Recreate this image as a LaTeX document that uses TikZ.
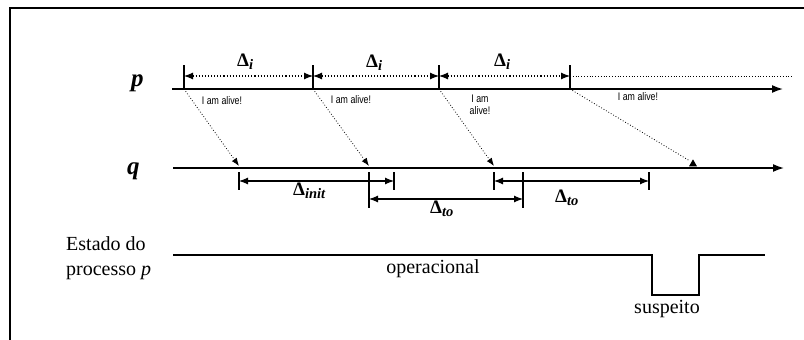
\documentclass[tikz,border=0pt]{standalone}
\usepackage{fontspec}
\setmainfont{Liberation Serif}
\newfontfamily\alivefont{Liberation Sans}
\usetikzlibrary{arrows.meta,shapes.geometric}

% interval label: bold Delta with a bold italic subscript
\newcommand{\dlab}[1]{{\fontsize{19}{19}\selectfont\bfseries Δ\raisebox{-3pt}{\fontsize{14.5}{14.5}\selectfont\bfseries\itshape #1}}}
% message text: narrow, tall sans
\newcommand{\msgtext}[1]{\scalebox{1}[1.25]{\begin{tabular}{@{}c@{}}#1\end{tabular}}}

\tikzset{
  axis/.style={line width=1.6pt, -{Latex[length=11pt,width=8pt]}},
  tickmark/.style={line width=2.6pt},
  span/.style={line width=1.1pt, {Latex[length=9pt,width=7pt]}-{Latex[length=9pt,width=7pt]}},
  dspan/.style={span, dotted},
  msg/.style={line width=0.8pt, dotted, -{Latex[length=8pt,width=6pt]}},
  alive/.style={font=\alivefont\fontsize{8.8}{9.6}\selectfont, inner sep=0pt},
  delta/.style={inner sep=0pt, anchor=base west},
  proc/.style={font=\fontsize{25}{25}\selectfont\bfseries\itshape, inner sep=0pt, anchor=base west},
  body/.style={font=\fontsize{20}{24}\selectfont, inner sep=0pt},
  state/.style={line width=1.2pt}
}

\begin{document}
\begin{tikzpicture}[x=1pt, y=-1pt]
\useasboundingbox (0,0) rectangle (804,340);

% frame
\draw[line width=2pt] (10,340) -- (10,8) -- (804,8);

% process labels
\node[proc] (plab) at (131,86) {p};
\node[proc] (qlab) at (127,174) {q};

% time axes
\coordinate (ps) at (172,89);  \coordinate (pe) at (783,89);
\coordinate (qs) at (173,168); \coordinate (qe) at (784,168);
\draw[axis] (ps) -- (pe);
\draw[axis] (qs) -- (qe);

% heartbeat instants on p
\foreach \n/\x in {1/184, 2/313, 3/439, 4/570} {
  \coordinate (t\n) at (\x,89);
  \coordinate (u\n) at (\x,65);
  \coordinate (m\n) at (\x,76);
  \draw[tickmark] (t\n) -- (u\n);
}
\draw[dspan] (m1) -- (m2);
\draw[dspan] (m2) -- (m3);
\draw[dspan] (m3) -- (m4);
\coordinate (dotend) at (792,76);
\draw[line width=0.8pt, dotted] (m4) -- (dotend);

\node[delta] (di1) at (237,66) {\dlab{i}};
\node[delta] (di2) at (366,67) {\dlab{i}};
\node[delta] (di3) at (494,66) {\dlab{i}};

% heartbeat messages
\coordinate (r1) at (239,166);
\coordinate (r2) at (369,166);
\coordinate (r3) at (494,166);
\coordinate (r4) at (690,161);
\draw[msg] (t1) -- (r1);
\draw[msg] (t2) -- (r2);
\draw[msg] (t3) -- (r3);
\draw[line width=0.8pt, dotted] (t4) -- (r4);
\node[isosceles triangle, fill=black, shape border rotate=90, inner sep=0pt,
      minimum height=7pt, minimum width=8pt, isosceles triangle stretches] (tip4) at (693,164) {};

\node[alive] (a1) at (222,102) {\msgtext{I am alive!}};
\node[alive] (a2) at (351,101) {\msgtext{I am alive!}};
\node[alive] (a3) at (480,106) {\msgtext{I am\\alive!}};
\node[alive] (a4) at (638,98) {\msgtext{I am alive!}};

% timeouts on q
\foreach \n/\x/\y in {1/239/190, 2/369/208, 3/394/190, 4/494/190, 5/523/208, 6/649/190} {
  \coordinate (k\n) at (\x,172);
  \coordinate (l\n) at (\x,\y);
  \draw[tickmark] (k\n) -- (l\n);
}
\coordinate (s1) at (239,181); \coordinate (s3) at (394,181);
\coordinate (s2) at (369,199); \coordinate (s5) at (523,199);
\coordinate (s4) at (494,181); \coordinate (s6) at (649,181);
\draw[span] (s1) -- (s3);
\draw[span] (s2) -- (s5);
\draw[span] (s4) -- (s6);

\node[delta] (dinit) at (293,195) {\dlab{init}};
\node[delta] (dto1) at (430,213) {\dlab{to}};
\node[delta] (dto2) at (555,202) {\dlab{to}};

% state of process p
\node[body, anchor=base west] (st1) at (66,250) {Estado do};
\node[body, anchor=base west] (st2) at (66,275) {processo \textit{p}};
\draw[state] (173,255) -- (652,255) -- (652,295) -- (699,295) -- (699,255) -- (765,255);
\node[body, anchor=base] (op) at (433,273) {operacional};
\node[body, anchor=base] (sus) at (667,313) {suspeito};
\end{tikzpicture}
\end{document}
